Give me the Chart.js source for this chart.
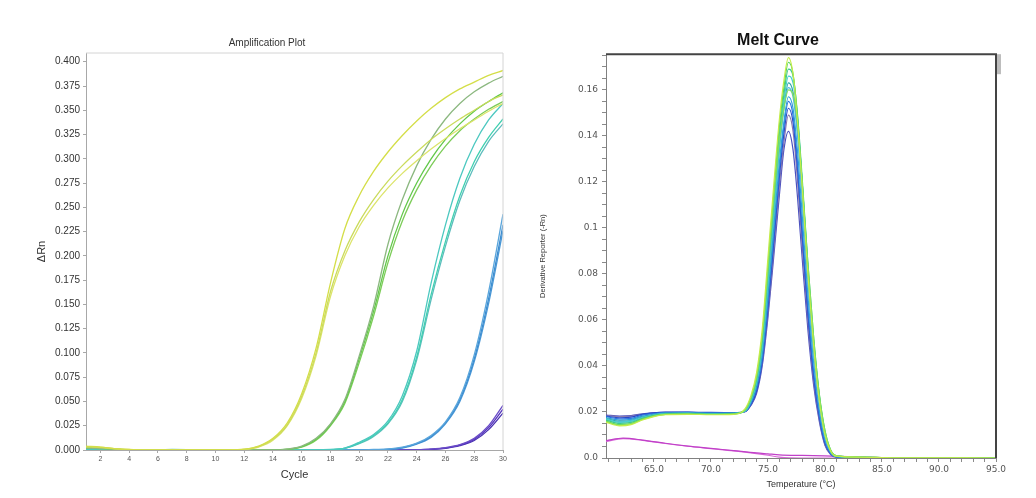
<!DOCTYPE html>
<html>
<head>
<meta charset="utf-8">
<script src="https://cdn.jsdelivr.net/npm/chart.js@4.4.1/dist/chart.umd.min.js"></script>
<style>
  html, body { margin: 0; padding: 0; background: #fff; }
  #wrap { position: relative; width: 1036px; height: 498px; overflow: hidden; }
  canvas { position: absolute; top: 0; }
  #amp { left: 0; }
  #melt { left: 520px; }
</style>
</head>
<body>
<div id="wrap">
  <canvas id="amp" width="520" height="498"></canvas>
  <canvas id="melt" width="516" height="498"></canvas>
</div>
<script>
// ---- Amplification plot data ----
const cycles = [1,2,3,4,5,6,7,8,9,10,11,12,13,14,15,16,17,18,19,20,21,22,23,24,25,26,27,28,29,30];
const ampXTicks = [2,4,6,8,10,12,14,16,18,20,22,24,26,28,30];
const ampYTicks = [0,0.025,0.05,0.075,0.1,0.125,0.15,0.175,0.2,0.225,0.25,0.275,0.3,0.325,0.35,0.375,0.4];

const yellow1 = [0.004,0.003,0.0015,0.0005,0,0,0,0,0,0,0,0.0008,0.004,0.012,0.028,0.058,0.105,0.172,0.228,0.262,0.287,0.307,0.324,0.339,0.352,0.363,0.372,0.379,0.386,0.391];
const yellow2 = [0.003,0.0025,0.0012,0.0004,0,0,0,0,0,0,0,0.0006,0.0035,0.011,0.026,0.055,0.1,0.163,0.205,0.235,0.258,0.277,0.293,0.307,0.32,0.331,0.341,0.35,0.359,0.366];
const yellow3 = [0.0035,0.003,0.0014,0.0005,0,0,0,0,0,0,0,0.0005,0.003,0.01,0.025,0.053,0.097,0.158,0.2,0.23,0.252,0.27,0.285,0.298,0.31,0.321,0.331,0.34,0.349,0.357];
const green1 = [0.002,0.0015,0.001,0.0003,0,0,0,0,0,0,0,0,0,0,0.001,0.004,0.012,0.027,0.052,0.097,0.148,0.212,0.258,0.293,0.32,0.341,0.357,0.369,0.378,0.385];
const green2 = [0.0025,0.002,0.001,0.0003,0,0,0.0004,0.0003,0,0,0,0,0,0,0.0008,0.0035,0.011,0.026,0.05,0.094,0.143,0.2,0.243,0.275,0.3,0.32,0.336,0.349,0.359,0.368];
const green3 = [0.002,0.0015,0.0008,0.0002,0,0,0,0,0,0,0,0,0,0,0.0007,0.003,0.01,0.025,0.048,0.09,0.138,0.193,0.236,0.268,0.293,0.313,0.329,0.341,0.351,0.359];
const teal1 = [0.001,0.0008,0.0005,0,0,0,0,0,0,0,0,0,0,0,0,0,0,0.0005,0.002,0.008,0.016,0.03,0.056,0.102,0.172,0.232,0.28,0.315,0.34,0.357];
const teal2 = [0.001,0.0008,0.0004,0,0,0,0,0,0,0,0,0,0,0,0,0,0,0.0004,0.0018,0.007,0.015,0.028,0.052,0.096,0.16,0.215,0.262,0.297,0.322,0.341];
const teal3 = [0.0012,0.001,0.0005,0,0,0,0.0005,0.0004,0,0,0,0,0,0,0,0,0,0.0003,0.0016,0.0065,0.014,0.027,0.05,0.093,0.155,0.21,0.257,0.292,0.318,0.336];
const blue1 = [0.0015,0.0012,0.0006,0.0002,0,0,0,0,0,0,0,0,0,0,0,0,0,0,0,0,0.0005,0.001,0.003,0.007,0.015,0.029,0.054,0.098,0.163,0.243];
const blue2 = [0.0012,0.001,0.0005,0.0002,0,0,0,0,0,0,0,0,0,0,0,0,0,0,0,0,0.0004,0.0008,0.0025,0.0065,0.014,0.028,0.052,0.094,0.156,0.232];
const blue3 = [0.001,0.0008,0.0004,0.0001,0,0,0,0,0,0,0,0,0,0,0,0,0,0,0,0,0.0003,0.0007,0.002,0.006,0.013,0.027,0.05,0.091,0.151,0.226];
const purple1 = [0.0005,0.0004,0.0002,0,0,0,0,0,0,0,0,0,0,0,0,0,0,0,0,0,0,0,0,0.0003,0.001,0.0025,0.0055,0.012,0.025,0.046];
const purple2 = [0.0004,0.0003,0.0001,0,0,0,0,0,0,0,0,0,0,0,0,0,0,0,0,0,0,0,0,0.0002,0.0008,0.002,0.005,0.011,0.023,0.042];
const purple3 = [0.0004,0.0003,0.0001,0,0,0,0,0,0,0,0,0,0,0,0,0,0,0,0,0,0,0,0,0.0001,0.0006,0.0018,0.0045,0.0098,0.021,0.038];

// ---- Melt curve data ----
const temps = [60.8,62,63,64,65,66,68,70,72,73,73.5,74,74.5,75,75.5,76,76.4,76.8,77.2,77.6,78,78.5,79,79.5,80,80.5,81,83,86,95];
const meltA = [0.0155,0.014,0.0145,0.0165,0.018,0.0188,0.019,0.0188,0.019,0.0215,0.027,0.037,0.056,0.087,0.118,0.147,0.164,0.174,0.167,0.146,0.118,0.08,0.049,0.025,0.01,0.003,0.0008,0.0004,0.0001,0];
const meltB = [0.016,0.0145,0.015,0.017,0.0183,0.019,0.0192,0.019,0.0192,0.021,0.026,0.035,0.053,0.083,0.114,0.144,0.161,0.172,0.167,0.148,0.12,0.083,0.051,0.027,0.011,0.003,0.0008,0.0004,0.0001,0];
const meltC = [0.0165,0.015,0.0155,0.0172,0.0185,0.0192,0.0193,0.0191,0.0193,0.0208,0.0255,0.034,0.051,0.08,0.11,0.14,0.158,0.169,0.166,0.149,0.122,0.085,0.053,0.028,0.012,0.0035,0.001,0.0004,0.0001,0];
const meltD = [0.017,0.0155,0.016,0.0175,0.0187,0.0193,0.0194,0.0192,0.0193,0.0205,0.025,0.033,0.049,0.077,0.107,0.137,0.155,0.166,0.163,0.147,0.12,0.083,0.051,0.027,0.011,0.003,0.0008,0.0003,0.0001,0];
const meltE = [0.0172,0.016,0.0163,0.0178,0.0188,0.0194,0.0195,0.0193,0.0194,0.0204,0.0245,0.032,0.047,0.074,0.104,0.134,0.152,0.163,0.159,0.142,0.115,0.079,0.048,0.025,0.01,0.003,0.0008,0.0003,0.0001,0];
const meltF = [0.0158,0.0143,0.0148,0.0168,0.0182,0.019,0.0191,0.0189,0.0191,0.0208,0.0258,0.035,0.053,0.082,0.112,0.138,0.152,0.16,0.158,0.145,0.12,0.085,0.053,0.028,0.012,0.0035,0.001,0.0004,0.0001,0];
const meltG = [0.0175,0.0165,0.0168,0.0182,0.019,0.0195,0.0196,0.0194,0.0195,0.0203,0.024,0.031,0.045,0.07,0.099,0.128,0.146,0.157,0.152,0.133,0.106,0.071,0.042,0.021,0.008,0.0022,0.0006,0.0003,0.0001,0];
const meltH = [0.018,0.017,0.0172,0.0186,0.0193,0.0197,0.0198,0.0196,0.0196,0.0202,0.0235,0.03,0.043,0.067,0.096,0.125,0.144,0.155,0.149,0.128,0.1,0.066,0.038,0.019,0.007,0.002,0.0005,0.0002,0.0001,0];
const meltI = [0.0182,0.0175,0.0178,0.019,0.0196,0.0199,0.02,0.0198,0.0197,0.0202,0.0232,0.029,0.042,0.065,0.093,0.122,0.141,0.152,0.146,0.125,0.097,0.063,0.036,0.018,0.0065,0.0018,0.0005,0.0002,0.0001,0];
const meltJ = [0.0185,0.018,0.0182,0.019,0.0195,0.0197,0.0197,0.0196,0.0196,0.0201,0.023,0.029,0.041,0.063,0.09,0.118,0.137,0.149,0.142,0.12,0.092,0.06,0.034,0.017,0.006,0.0016,0.0004,0.0002,0.0001,0];
const meltK = [0.0187,0.0182,0.0184,0.0192,0.0196,0.0198,0.0198,0.0197,0.0197,0.0201,0.0228,0.028,0.04,0.061,0.087,0.114,0.134,0.142,0.134,0.113,0.087,0.056,0.032,0.016,0.0055,0.0015,0.0004,0.0002,0.0001,0];
const meltL = [0.0168,0.0156,0.016,0.0176,0.0187,0.0193,0.0194,0.0192,0.0193,0.0204,0.0248,0.033,0.048,0.076,0.106,0.135,0.152,0.161,0.157,0.14,0.113,0.077,0.046,0.024,0.0095,0.0028,0.0007,0.0003,0.0001,0];
const ntcTemps = [60.8,62.3,64,66,68,70,72,74,75,76,78,80,82,85,87,95];
const ntc1 = [0.0075,0.0086,0.0078,0.0064,0.0052,0.0042,0.0032,0.0022,0.0018,0.0014,0.0011,0.0009,0.0006,0.0002,0,0];
const ntc2 = [0.0072,0.0084,0.0077,0.0063,0.0051,0.0041,0.0031,0.0019,0.0012,0.0004,0,0,0,0,0,0];
const meltXTicks = [65,70,75,80,85,90,95];
const meltYTicks = [0,0.02,0.04,0.06,0.08,0.1,0.12,0.14,0.16];

const ARIAL = 'Arial, "Liberation Sans", sans-serif';
const DEJA = '"DejaVu Sans", sans-serif';

// frame around the plot area
const framePlugin = {
  id: 'frame',
  afterDraw(chart, args, opts) {
    const { ctx, chartArea: a } = chart;
    ctx.save();
    ctx.strokeStyle = opts.color;
    ctx.lineWidth = opts.width;
    ctx.beginPath();
    ctx.moveTo(a.left, a.top);
    ctx.lineTo(a.right, a.top);
    ctx.lineTo(a.right, a.bottom);
    ctx.stroke();
    if (opts.bar) {
      ctx.fillStyle = opts.bar;
      ctx.fillRect(a.right + 1, a.top, 4, 20);
    }
    ctx.restore();
  }
};

function line(data, color, width) {
  return {
    data, borderColor: color, borderWidth: width, pointRadius: 0,
    fill: false, cubicInterpolationMode: 'monotone'
  };
}

new Chart(document.getElementById('amp'), {
  type: 'line',
  data: {
    labels: cycles,
    datasets: [
      line(yellow1, '#d4de48', 1.3), line(yellow2, '#cadb5c', 1.3), line(yellow3, '#dce46a', 1.3),
      line(green1, '#8cb880', 1.3), line(green2, '#62c84a', 1.3), line(green3, '#7ccc58', 1.3),
      line(teal1, '#4cc8c0', 1.3), line(teal2, '#40d0b0', 1.3), line(teal3, '#5cbcbc', 1.3),
      line(blue1, '#5aa6dc', 1.3), line(blue2, '#3c8cd0', 1.3), line(blue3, '#4a98d6', 1.3),
      line(purple1, '#6a4cc8', 1.3), line(purple2, '#5434bc', 1.3), line(purple3, '#4830b0', 1.3)
    ]
  },
  options: {
    responsive: false,
    animation: false,
    layout: { padding: { left: 31, right: 17, top: 0, bottom: 0 } },
    plugins: {
      legend: { display: false },
      tooltip: { enabled: false },
      title: {
        display: true, text: 'Amplification Plot', color: '#333',
        font: { family: ARIAL, size: 10, weight: 'normal' },
        padding: { top: 37, bottom: 4 }
      },
      frame: { color: '#d4d4d4', width: 1 }
    },
    scales: {
      x: {
        type: 'linear', min: 1, max: 30,
        afterBuildTicks: s => { s.ticks = ampXTicks.map(v => ({ value: v })); },
        afterFit: s => { s.height = 48; },
        ticks: { autoSkip: false, maxRotation: 0, padding: 2, color: '#555', font: { family: ARIAL, size: 7 } },
        grid: { drawOnChartArea: false, tickLength: 3, color: '#a8a8a8' },
        border: { color: '#a8a8a8', width: 1 },
        title: { display: true, text: 'Cycle', color: '#333', font: { family: ARIAL, size: 11 }, padding: { top: 0, bottom: 16.4 } }
      },
      y: {
        min: 0, max: 0.409,
        afterBuildTicks: s => { s.ticks = ampYTicks.map(v => ({ value: v })); },
        afterFit: s => { s.width = 55; },
        ticks: { autoSkip: false, padding: 3, color: '#333', font: { family: ARIAL, size: 10 }, callback: v => v.toFixed(3) },
        grid: { drawOnChartArea: false, tickLength: 3, color: '#a8a8a8' },
        border: { color: '#a8a8a8', width: 1 },
        title: { display: true, text: 'ΔRn', color: '#333', font: { family: ARIAL, size: 11 }, padding: { top: 4.4, bottom: 0 } }
      }
    }
  },
  plugins: [framePlugin]
});

// minor tick positions for the melt axes
const meltXMinor = [];
for (let t = 61; t <= 95; t++) meltXMinor.push(t);
const meltYMinor = [];
for (let i = 0; i <= 35; i++) meltYMinor.push(+(i * 0.005).toFixed(3));
const isMajor = (v, list) => list.some(m => Math.abs(m - v) < 1e-6);

const xy = (xs, ys) => xs.map((x, i) => ({ x, y: ys[i] }));

new Chart(document.getElementById('melt'), {
  type: 'line',
  data: {
    datasets: [
      line(xy(temps, meltA), '#c4ec48', 1.2), line(xy(temps, meltF), '#80e060', 1.2),
      line(xy(temps, meltB), '#56d65a', 1.2), line(xy(temps, meltC), '#40c890', 1.2),
      line(xy(temps, meltD), '#46d0d0', 1.2), line(xy(temps, meltL), '#50b8e0', 1.2),
      line(xy(temps, meltE), '#30a8a8', 1.2), line(xy(temps, meltG), '#30a0d8', 1.2),
      line(xy(temps, meltH), '#2a70e0', 1.2), line(xy(temps, meltI), '#2848c8', 1.2),
      line(xy(temps, meltJ), '#8878b0', 1.2), line(xy(temps, meltK), '#4a50c0', 1.2),
      line(xy(ntcTemps, ntc1), '#c040c8', 1.2), line(xy(ntcTemps, ntc2), '#d868d8', 1.2)
    ]
  },
  options: {
    responsive: false,
    animation: false,
    layout: { padding: { left: 40, right: 40, top: 0, bottom: 0 } },
    plugins: {
      legend: { display: false },
      tooltip: { enabled: false },
      title: {
        display: true, text: 'Melt Curve', color: '#111',
        font: { family: ARIAL, size: 16, weight: 'bold' },
        padding: { top: 31, bottom: 4 }
      },
      frame: { color: '#444', width: 2, bar: '#bdbdbd' }
    },
    scales: {
      x: {
        type: 'linear', min: 60.8, max: 95,
        afterBuildTicks: s => { s.ticks = meltXMinor.map(v => ({ value: v })); },
        afterFit: s => { s.height = 40; },
        ticks: {
          autoSkip: false, maxRotation: 0, padding: 2, color: '#555', font: { family: DEJA, size: 9 },
          callback: v => isMajor(v, meltXTicks) ? v.toFixed(1) : ''
        },
        grid: { drawOnChartArea: false, tickLength: 4, color: '#8a8a8a' },
        border: { color: '#808080', width: 1 },
        title: { display: true, text: 'Temperature (°C)', color: '#333', font: { family: ARIAL, size: 9 }, padding: { top: 0, bottom: 7.6 } }
      },
      y: {
        min: 0, max: 0.1755,
        afterBuildTicks: s => { s.ticks = meltYMinor.map(v => ({ value: v })); },
        afterFit: s => { s.width = 46; },
        ticks: {
          autoSkip: false, padding: 4, color: '#555', font: { family: DEJA, size: 9 },
          callback: v => isMajor(v, meltYTicks) ? (v === 0 ? '0.0' : String(+v.toFixed(2))) : ''
        },
        grid: { drawOnChartArea: false, tickLength: 4, color: '#8a8a8a' },
        border: { color: '#808080', width: 1 },
        title: { display: true, text: 'Derivative Reporter (-Rn)', color: '#333', font: { family: ARIAL, size: 7.5 }, padding: { top: -21.5, bottom: 0 } }
      }
    }
  },
  plugins: [framePlugin]
});
</script>
</body>
</html>
